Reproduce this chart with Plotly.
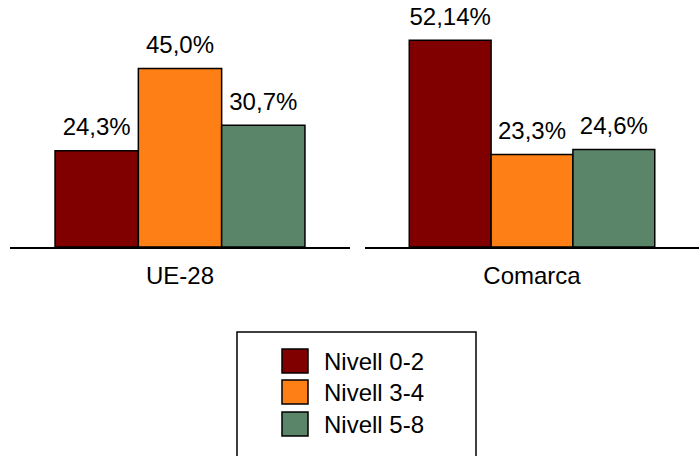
import plotly.graph_objects as go

regions = ["UE-28", "Comarca"]
series = ["Nivell 0-2", "Nivell 3-4", "Nivell 5-8"]
colors = ["#800000", "#FF7F17", "#5B8568"]
# values per region, ordered by series
ue28 = [24.3, 45.0, 30.7]
comarca = [52.14, 23.3, 24.6]
ue28_labels = ["24,3%", "45,0%", "30,7%"]
comarca_labels = ["52,14%", "23,3%", "24,6%"]

W, H = 699, 456
FONT = "Liberation Sans, Arial, sans-serif"
FS = 24
GAP = 0.265

fig = go.Figure()
region_vals = [ue28, comarca]
region_labels = [ue28_labels, comarca_labels]
axes = [("x", "y"), ("x2", "y2")]
for r, reg in enumerate(regions):
    for s, name in enumerate(series):
        fig.add_trace(go.Bar(
            x=[reg], y=[region_vals[r][s]], name=name,
            marker=dict(color=colors[s], line=dict(color="black", width=1.5)),
            xaxis=axes[r][0], yaxis=axes[r][1], showlegend=False,
            offsetgroup=str(s), hoverinfo="skip",
        ))
    # value labels: text-only points grouped like the bars
    for s, name in enumerate(series):
        fig.add_trace(go.Scatter(
            x=[reg], y=[region_vals[r][s]], name=name,
            mode="markers+text", text=[region_labels[r][s]],
            textposition="top center",
            textfont=dict(size=FS, color="black", family=FONT),
            marker=dict(size=14, opacity=0),
            cliponaxis=False, showlegend=False,
            xaxis=axes[r][0], yaxis=axes[r][1],
            offsetgroup=str(s),
        ))

ymax = 62.3
ydom = [209 / H, 1]
xaxis_common = dict(showline=True, linecolor="black", linewidth=1.5,
                    showgrid=False, zeroline=False, ticks="outside",
                    ticklen=6, tickcolor="rgba(0,0,0,0)",
                    tickfont=dict(size=FS, color="black", family=FONT),
                    fixedrange=True)
yaxis_common = dict(visible=False, range=[0, ymax], fixedrange=True)

fig.update_layout(
    width=W, height=H,
    margin=dict(l=0, r=0, t=0, b=0),
    paper_bgcolor="white", plot_bgcolor="white",
    barmode="group", bargap=GAP, bargroupgap=0,
    scattermode="group", scattergap=GAP,
    font=dict(family=FONT, color="black"),
    xaxis=dict(domain=[10 / W, 350 / W], anchor="y", **xaxis_common),
    xaxis2=dict(domain=[365 / W, 1], anchor="y2", **xaxis_common),
    yaxis=dict(domain=ydom, anchor="x", **yaxis_common),
    yaxis2=dict(domain=ydom, anchor="x2", **yaxis_common),
    showlegend=False,
)

# custom legend (box, swatches, labels) in paper coordinates
def px(x):
    return x / W

def py(y):
    return 1 - y / H

shapes = [dict(type="rect", xref="paper", yref="paper",
               x0=px(237), x1=px(476), y0=py(470), y1=py(332),
               line=dict(color="black", width=1.5), fillcolor="rgba(0,0,0,0)")]
annotations = []
row_centers = [361, 392, 424]
for s, name in enumerate(series):
    yc = row_centers[s]
    shapes.append(dict(type="rect", xref="paper", yref="paper",
                       x0=px(282), x1=px(308), y0=py(yc + 12), y1=py(yc - 12),
                       line=dict(color="black", width=1.5), fillcolor=colors[s]))
    annotations.append(dict(xref="paper", yref="paper", x=px(322), y=py(yc),
                            xanchor="left", yanchor="middle", text=name,
                            showarrow=False,
                            font=dict(size=FS, color="black", family=FONT)))
fig.update_layout(shapes=shapes, annotations=annotations)

fig.write_html("out.html")
